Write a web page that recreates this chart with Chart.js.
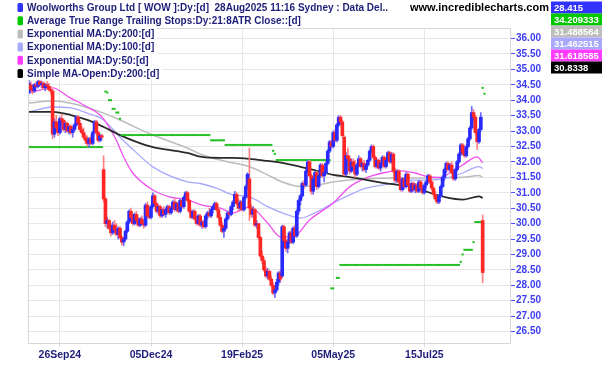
<!DOCTYPE html>
<html><head><meta charset="utf-8">
<script src="https://cdn.jsdelivr.net/npm/chart.js@4.4.1/dist/chart.umd.min.js"></script>
<style>html,body{margin:0;padding:0;background:#fff}#wrap{width:602px;height:365px;position:relative}</style>
</head><body><div id="wrap"><canvas id="c" width="602" height="365"></canvas></div>
<script>
// ---- tick labels ----
const xTickIdx = [17, 67, 117, 167, 217];
const xTickLabels = ['26Sep24', '05Dec24', '19Feb25', '05May25', '15Jul25'];
const yTicks = [26.5, 27, 27.5, 28, 28.5, 29, 29.5, 30, 30.5, 31, 31.5, 32, 32.5, 33, 33.5, 34, 34.5, 35, 35.5, 36];

// ---- daily OHLC (bar index 0 = 03Sep24 ... 249 = 28Aug25) ----
const open = [
34.25,34.5,34.35,34.3,34.5,34.45,34.6,34.5,34.55,34.4,
34.5,34.45,34.35,34.3,32.9,33.3,33.1,32.95,33.4,33.35,
33.05,33.25,33.0,33.15,32.95,33.05,33.2,33.45,33.25,33.05,
32.95,32.8,32.7,32.6,32.75,32.6,32.95,33.3,32.95,32.7,
32.85,31.75,30.8,30.0,30.1,29.85,29.7,29.95,29.8,29.65,
29.85,29.55,29.4,29.5,29.75,30.05,30.4,30.2,30.0,30.3,
30.1,29.95,30.15,30.0,29.95,30.6,30.25,30.2,30.55,30.9,
30.65,30.4,30.55,30.25,30.45,30.3,30.45,30.55,30.35,30.5,
30.7,30.45,30.65,30.4,30.75,30.55,30.85,31.0,30.75,30.4,
30.2,30.4,30.15,30.0,30.25,29.95,30.05,29.9,30.25,30.35,
30.25,30.45,30.55,30.65,30.45,30.2,29.95,29.75,29.85,30.15,
30.35,30.3,30.55,30.7,30.95,30.65,30.5,30.7,30.45,30.85,
31.2,31.45,30.5,30.3,30.45,29.95,30.0,29.55,28.95,28.8,
28.5,28.3,28.45,28.2,28.0,27.75,27.85,28.1,28.4,28.3,
29.9,29.45,29.2,29.4,29.7,29.4,29.85,29.6,30.4,30.75,
30.9,31.3,31.25,31.7,32.0,31.55,31.05,31.45,31.65,31.2,
31.55,31.9,31.55,31.65,31.95,32.35,32.65,32.5,32.95,32.7,
33.2,33.45,33.3,32.8,31.6,32.2,32.1,31.7,32.0,31.85,
31.6,31.9,32.1,31.85,31.95,31.75,31.9,32.05,32.35,32.5,
32.15,31.85,32.05,31.8,31.95,32.15,31.85,32.05,32.3,32.0,
32.25,31.7,31.4,31.7,31.35,31.1,31.45,31.2,31.6,31.25,
31.05,31.3,31.1,31.25,31.05,31.35,31.15,31.0,31.25,31.35,
31.55,31.35,31.15,30.95,30.8,30.7,30.9,31.2,31.5,31.75,
31.95,31.75,31.9,31.65,31.45,31.75,32.0,32.25,32.55,32.3,
32.2,32.5,32.75,33.1,33.6,33.45,32.95,32.65,33.05,30.1];
const high = [
34.65,34.6,34.5,34.55,34.6,34.65,34.68,34.62,34.6,34.55,
34.6,34.55,34.45,34.35,33.4,33.5,33.3,33.45,33.55,33.4,
33.3,33.3,33.2,33.2,33.1,33.25,33.5,33.5,33.35,33.15,
33.1,32.9,32.85,32.8,32.85,33.0,33.35,33.35,33.0,32.9,
32.9,32.2,30.85,30.2,30.15,30.0,30.05,30.1,30.0,29.9,
29.9,29.6,29.55,29.8,30.1,30.45,30.5,30.3,30.35,30.4,
30.2,30.2,30.25,30.1,30.65,30.7,30.35,30.6,31.0,30.95,
30.7,30.6,30.6,30.5,30.55,30.5,30.6,30.6,30.55,30.75,
30.8,30.7,30.7,30.8,30.8,30.9,31.05,31.05,30.8,30.45,
30.45,30.45,30.25,30.3,30.3,30.1,30.1,30.3,30.4,30.5,
30.5,30.6,30.7,30.7,30.5,30.3,30.05,29.9,30.2,30.4,
30.45,30.6,30.75,31.05,31.0,30.8,30.75,30.75,30.9,31.25,
31.65,32.45,30.6,30.55,30.5,30.1,30.0,29.6,29.1,28.9,
28.6,28.55,28.5,28.3,28.1,27.9,28.2,28.45,28.5,29.95,
29.95,29.6,29.5,29.75,29.8,29.9,29.95,30.45,30.8,30.95,
31.35,31.4,31.75,32.06,32.05,31.6,31.5,31.7,31.7,31.6,
31.95,31.95,31.7,32.0,32.4,32.7,32.7,33.0,33.05,33.25,
33.5,33.5,33.35,32.85,32.3,32.45,32.2,32.1,32.1,32.05,
31.95,32.2,32.15,32.0,32.05,31.95,32.1,32.4,32.55,32.55,
32.2,32.1,32.1,32.0,32.2,32.2,32.1,32.35,32.35,32.3,
32.3,31.8,31.75,31.75,31.5,31.5,31.5,31.65,31.65,31.3,
31.35,31.35,31.3,31.3,31.4,31.4,31.2,31.3,31.4,31.6,
31.6,31.4,31.2,31.05,30.85,30.95,31.25,31.55,31.8,32.0,
32.0,31.95,32.0,31.7,31.8,32.05,32.3,32.6,32.6,32.45,
32.55,32.8,33.15,33.8,33.7,33.5,33.0,33.1,33.6,30.28];
const low = [
34.2,34.3,34.2,34.25,34.4,34.4,34.45,34.4,34.35,34.3,
34.35,34.3,34.2,32.75,32.8,33.0,32.85,32.9,33.2,33.0,
32.95,32.95,32.9,32.9,32.8,33.0,33.15,33.2,33.0,32.9,
32.75,32.6,32.5,32.48,32.55,32.55,32.9,32.9,32.65,32.65,
32.7,30.7,29.9,29.85,29.8,29.6,29.65,29.75,29.6,29.5,
29.5,29.3,29.28,29.45,29.7,30.0,30.1,29.95,29.95,30.05,
29.9,29.9,29.95,29.85,29.9,30.2,30.15,30.15,30.5,30.6,
30.35,30.3,30.2,30.2,30.25,30.2,30.35,30.3,30.3,30.45,
30.4,30.4,30.35,30.35,30.5,30.5,30.8,30.7,30.35,30.15,
30.15,30.1,29.95,29.95,29.9,29.85,29.85,29.85,30.15,30.2,
30.2,30.35,30.45,30.4,30.15,29.9,29.7,29.55,29.8,30.1,
30.2,30.25,30.45,30.65,30.6,30.4,30.45,30.4,30.4,30.8,
31.1,30.1,30.2,30.2,29.9,29.85,29.5,28.9,28.7,28.45,
28.25,28.2,28.15,27.95,27.7,27.6,27.8,28.0,28.1,28.25,
29.4,29.1,29.05,29.35,29.35,29.35,29.55,29.55,30.3,30.6,
30.85,31.15,31.2,31.65,31.5,30.95,30.95,31.3,31.1,31.15,
31.5,31.5,31.35,31.6,31.9,32.3,32.45,32.45,32.65,32.65,
33.15,33.2,32.8,31.55,31.55,32.0,31.6,31.65,31.75,31.5,
31.55,31.85,31.8,31.7,31.7,31.65,31.85,32.0,32.3,32.1,
31.8,31.8,31.75,31.7,31.9,31.8,31.8,32.0,31.95,31.95,
31.65,31.35,31.35,31.3,31.05,31.05,31.15,31.15,31.2,31.0,
31.0,31.05,31.0,31.0,31.0,31.1,30.95,30.95,31.15,31.3,
31.3,31.1,30.9,30.75,30.65,30.65,30.85,31.15,31.4,31.65,
31.7,31.7,31.6,31.4,31.4,31.7,31.95,32.2,32.25,32.15,
32.15,32.45,32.7,33.05,33.3,32.9,32.4,32.6,33.0,28.08];
const close = [
34.55,34.35,34.3,34.5,34.45,34.6,34.5,34.55,34.4,34.5,
34.45,34.35,34.3,32.9,33.3,33.1,32.95,33.4,33.35,33.05,
33.25,33.0,33.15,32.95,33.05,33.2,33.45,33.25,33.05,32.95,
32.8,32.7,32.6,32.75,32.6,32.95,33.3,32.95,32.7,32.85,
32.8,30.8,30.0,30.1,29.85,29.7,29.95,29.8,29.65,29.85,
29.55,29.4,29.5,29.75,30.05,30.4,30.2,30.0,30.3,30.1,
29.95,30.15,30.0,29.95,30.6,30.25,30.2,30.55,30.9,30.65,
30.4,30.55,30.25,30.45,30.3,30.45,30.55,30.35,30.5,30.7,
30.45,30.65,30.4,30.75,30.55,30.85,31.0,30.75,30.4,30.2,
30.4,30.15,30.0,30.25,29.95,30.05,29.9,30.25,30.35,30.25,
30.45,30.55,30.65,30.45,30.2,29.95,29.75,29.85,30.15,30.35,
30.3,30.55,30.7,30.95,30.65,30.5,30.7,30.45,30.85,31.2,
31.6,30.5,30.3,30.45,29.95,30.0,29.55,28.95,28.8,28.5,
28.3,28.45,28.2,28.0,27.75,27.85,28.1,28.4,28.2,29.9,
29.45,29.2,29.4,29.7,29.4,29.85,29.6,30.4,30.75,30.9,
31.3,31.25,31.7,32.0,31.55,31.05,31.45,31.65,31.2,31.55,
31.9,31.55,31.65,31.95,32.35,32.65,32.5,32.95,32.7,33.2,
33.45,33.3,32.85,31.6,32.2,32.1,31.7,32.0,31.85,31.6,
31.9,32.1,31.85,31.95,31.75,31.9,32.05,32.35,32.5,32.15,
31.85,32.05,31.8,31.95,32.15,31.85,32.05,32.3,32.0,32.25,
31.7,31.4,31.7,31.35,31.1,31.45,31.2,31.6,31.25,31.05,
31.3,31.1,31.25,31.05,31.35,31.15,31.0,31.25,31.35,31.55,
31.35,31.15,30.95,30.8,30.7,30.9,31.2,31.5,31.75,31.95,
31.75,31.9,31.65,31.45,31.75,32.0,32.25,32.55,32.3,32.2,
32.5,32.75,33.1,33.6,33.45,32.95,32.65,33.05,33.45,28.415];

// ---- moving averages (bar index, value) ----
const ema200Idx = [0,13,23,41,50,68,87,95,105,112,121,131,139,149,158,167,176,185,203,220,238,247,249];
const ema200 =    [33.91,33.97,33.9,33.58,33.36,32.87,32.45,32.23,32.06,31.97,31.84,31.58,31.35,31.2,31.25,31.35,31.41,31.45,31.48,31.48,31.5,31.56,31.49];
const ema100Idx = [0,13,23,32,41,50,59,68,87,94,103,112,121,131,139,149,158,167,176,185,194,204,211,220,229,238,247,249];
const ema100 =    [33.62,33.78,33.75,33.58,33.36,32.8,32.3,31.84,31.35,31.3,31.15,30.93,30.87,30.55,30.35,30.18,30.38,30.67,30.93,31.15,31.25,31.35,31.41,31.41,31.48,31.64,31.85,31.78];
const ema50Idx =  [0,13,22,32,39,44,48,52,57,68,77,87,95,105,112,121,131,138,145,154,167,176,185,194,203,212,220,226,232,238,246,249];
const ema50 =     [34.23,34.4,34.1,33.78,33.52,33.13,32.7,32.16,31.64,31.09,30.87,30.77,30.6,30.5,30.35,30.54,30.02,29.57,29.57,30.12,30.67,31.19,31.48,31.64,31.72,31.64,31.51,31.5,31.68,31.9,32.16,31.97];
const sma200Idx = [0,13,23,32,41,50,59,68,77,87,95,105,112,121,131,139,149,158,167,176,185,194,204,211,220,229,238,247,249];
const sma200 =    [33.62,33.62,33.52,33.36,33.13,32.87,32.65,32.48,32.39,32.29,32.16,32.13,32.13,32.1,32.03,31.97,31.84,31.71,31.58,31.51,31.42,31.32,31.25,31.2,31.0,30.85,30.78,30.88,30.83];

// ---- ATR trailing stop: [first bar, last bar, level] ----
const atrStops = [
[0,40,32.48],[42,42,34.28],[43,43,34.25],[44,45,34.0],[46,47,33.72],[48,49,33.6],[50,50,33.4],
[51,99,32.87],[100,107,32.7],[108,133,32.55],[134,134,32.36],[135,135,32.26],[136,165,32.06],
[166,167,27.9],[169,170,28.24],[171,236,28.66],[237,237,28.76],[238,238,29.0],[239,243,29.15],
[244,244,29.4],[245,248,30.05],[249,249,34.4],[250,250,34.21]];

// ---- legend / header text ----
const legendTexts = [
'Woolworths Group Ltd [ WOW ]:Dy:[d]  28Aug2025 11:16 Sydney : Data Del..',
'Average True Range Trailing Stops:Dy:21:8ATR Close::[d]',
'Exponential MA:Dy:200:[d]',
'Exponential MA:Dy:100:[d]',
'Exponential MA:Dy:50:[d]',
'Simple MA-Open:Dy:200:[d]'];
const lastValues = ['28.415','34.209333','31.488564','31.462515','31.618585','30.8338'];
const siteName = 'www.incrediblecharts.com';

// ---- styles ----
const C_UP = '#2a2aff', C_DN = '#ff2626', C_UPW = '#6a6aff', C_DNW = '#ff8080';
const seriesColors = ['#3333ff', '#00c800', '#bdbdbd', '#a8a8ff', '#ff3cff', '#000000'];
const FONT = "'Liberation Sans', Arial, sans-serif";

const wickData = close.map((c, i) => ({x: i, y: [low[i], high[i]]}));
const bodyData = close.map((c, i) => ({x: i, y: [open[i], c]}));
const upDown = close.map((c, i) => c >= open[i]);
const atrData = [];
atrStops.forEach(([a, b, v]) => { for (let i = a; i <= b; i++) atrData.push({x: i, y: v}); });
const pts = (idx, vals) => idx.map((x, k) => ({x, y: vals[k]}));

const lineDs = (label, data, color, width, order) => ({
  type: 'line', label, data, borderColor: color, borderWidth: width, pointRadius: 0,
  cubicInterpolationMode: 'monotone', fill: false, order
});

const decor = {
  id: 'decor',
  afterDraw(chart) {
    const ctx = chart.ctx, a = chart.chartArea;
    ctx.save();
    ctx.strokeStyle = '#d6d6d6'; ctx.lineWidth = 1;
    ctx.beginPath();
    ctx.moveTo(a.left + 0.5, a.bottom); ctx.lineTo(a.left + 0.5, a.top + 0.5); ctx.lineTo(a.right, a.top + 0.5);
    ctx.stroke();
    // legend rows
    ctx.font = 'bold 10px ' + FONT;
    ctx.textBaseline = 'middle';
    legendTexts.forEach((t, k) => {
      const y = 7.5 + k * 13.2;
      const w = ctx.measureText(t).width;
      ctx.fillStyle = '#ffffff';
      ctx.fillRect(15, y - 6.5, w + 15, 13);
      ctx.fillStyle = seriesColors[k];
      ctx.beginPath();
      if (ctx.roundRect) ctx.roundRect(17.5, y - 4.5, 5.5, 9, 1.5); else ctx.rect(17.5, y - 4.5, 5.5, 9);
      ctx.fill();
      ctx.fillStyle = '#1e1e7a';
      ctx.fillText(t, 27, y + 0.5);
    });
    // site name
    ctx.font = 'bold 11px ' + FONT;
    ctx.fillStyle = '#000000';
    ctx.fillText(siteName, 410, 8);
    // last value boxes
    ctx.font = 'bold 9.5px ' + FONT;
    lastValues.forEach((t, k) => {
      const y0 = 1.5 + k * 12;
      ctx.fillStyle = seriesColors[k];
      ctx.fillRect(551, y0, 51, 12);
      ctx.fillStyle = '#ffffff';
      ctx.fillText(t, 554, y0 + 6.5);
    });
    ctx.restore();
  }
};

new Chart(document.getElementById('c'), {
  data: {
    datasets: [
      {type: 'bar', label: 'wick', data: wickData, backgroundColor: upDown.map(u => u ? C_UPW : C_DNW),
       barThickness: 1, grouped: false, order: 2},
      {type: 'bar', label: 'body', data: bodyData, backgroundColor: upDown.map(u => u ? C_UP : C_DN),
       barThickness: 3, minBarLength: 1, grouped: false, order: 1},
      {type: 'line', label: 'atr', data: atrData, showLine: false, pointStyle: 'line', pointRadius: 1.1,
       pointBorderWidth: 2, pointBorderColor: '#22c022', pointBackgroundColor: '#22c022', order: 3},
      lineDs('ema200', pts(ema200Idx, ema200), '#bcbcbc', 1.5, 7),
      lineDs('ema100', pts(ema100Idx, ema100), '#a8a8ff', 1.3, 6),
      lineDs('ema50', pts(ema50Idx, ema50), '#f050f0', 1.3, 5),
      lineDs('sma200', pts(sma200Idx, sma200), '#2a2a2a', 1.8, 4)
    ]
  },
  options: {
    responsive: false, animation: false, devicePixelRatio: 1,
    layout: {padding: {left: 28, top: 28, right: 0, bottom: 0}},
    plugins: {legend: {display: false}, tooltip: {enabled: false}},
    scales: {
      x: {
        type: 'linear', min: -0.5, max: 264, offset: false,
        afterBuildTicks: s => { s.ticks = xTickIdx.map(v => ({value: v})); },
        afterFit: s => { s.height = 22; },
        grid: {color: '#e6e6e6', tickLength: 4, tickColor: '#dcdcdc', offset: false},
        border: {color: '#d6d6d6'},
        ticks: {autoSkip: false, maxRotation: 0, minRotation: 0, padding: 2, color: '#1e1e7a',
                font: {family: FONT, size: 10.5, weight: 'bold'},
                callback: v => xTickLabels[xTickIdx.indexOf(v)] || ''}
      },
      y: {
        type: 'linear', position: 'right', min: 26.13, max: 36.34,
        afterBuildTicks: s => { s.ticks = yTicks.map(v => ({value: v})); },
        afterFit: s => { s.width = 92; },
        grid: {color: '#e6e6e6', tickLength: 5, tickColor: '#5050ff'},
        border: {color: '#d6d6d6'},
        ticks: {padding: 1, color: '#3c3cf5', font: {family: FONT, size: 10, weight: 'bold'},
                callback: v => Number(v).toFixed(2)}
      }
    }
  },
  plugins: [decor]
});
</script></body></html>
